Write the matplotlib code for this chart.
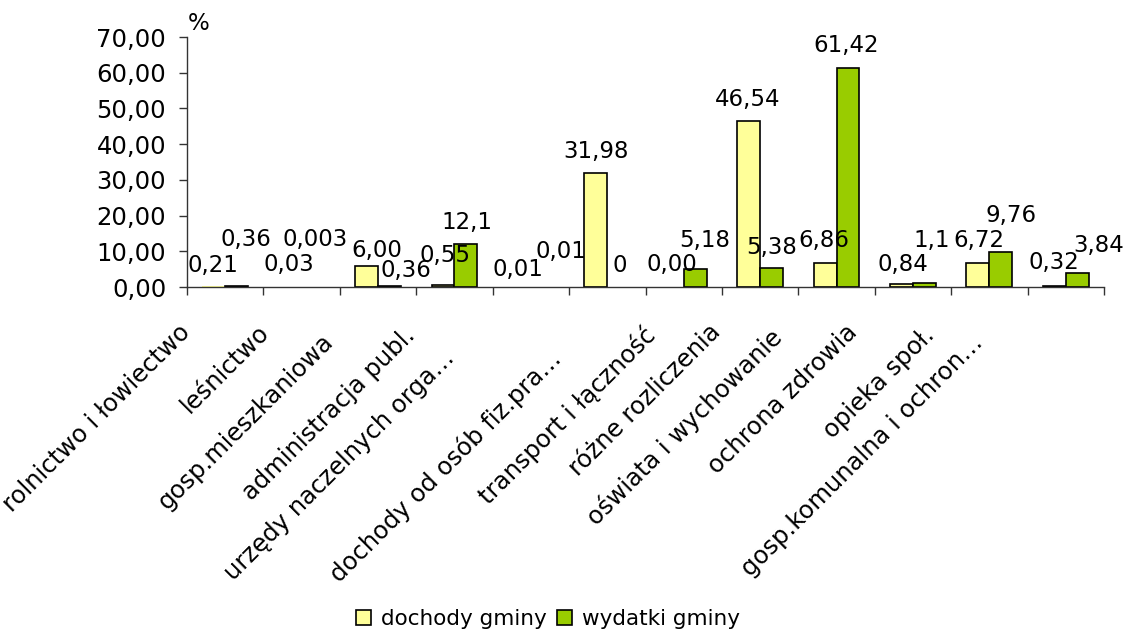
import matplotlib
matplotlib.use("Agg")
import matplotlib.pyplot as plt
from matplotlib.patches import Patch
from matplotlib.ticker import FuncFormatter

# --- data -------------------------------------------------------------
categories = [
    "rolnictwo i łowiectwo",
    "leśnictwo",
    "gosp.mieszkaniowa",
    "administracja publ.",
    "urzędy naczelnych orga…",
    "dochody od osób fiz.pra…",
    "transport i łączność",
    "różne rozliczenia",
    "oświata i wychowanie",
    "ochrona zdrowia",
    "opieka społ.",
    "gosp.komunalna i ochron…",
]
dochody_labels = ["0,21", "0,03", "6,00", "0,55", "0,01", "31,98",
                  "0,00", "46,54", "6,86", "0,84", "6,72", "0,32"]
wydatki_labels = ["0,36", "0,003", "0,36", "12,1", "0,01", "0",
                  "5,18", "5,38", "61,42", "1,1", "9,76", "3,84"]
series_names = ["dochody gminy", "wydatki gminy"]
y_ticks = [0, 10, 20, 30, 40, 50, 60, 70]

dochody = [float(s.replace(",", ".")) for s in dochody_labels]
wydatki = [float(s.replace(",", ".")) for s in wydatki_labels]

# --- label placement (pixel offsets from the top of each bar) ----------
dochody_off = [(-1, 21), (-1, 22), (10, 15), (2, 30), (-1, 17), (0, 21),
               (0, 22), (-1, 21), (-1, 22), (1, 19), (1, 23), (0, 23)]
wydatki_off = [(9, 46), (2, 47), (16, 15), (1, 21), (19, 35), (1, 22),
               (10, 28), (0, 20), (-2, 22), (7, 43), (10, 37), (21, 28)]
# category label anchors (pixels left / down from category centre)
cat_off = [(-47, 33), (-45, 33), (-57, 43), (-52, 36), (-89, 59), (-59, 59),
           (-41, 35), (-52, 33), (-67, 38), (-68, 33), (-67, 36), (-95, 44)]

YELLOW = "#FFFF99"
GREEN = "#99CC00"
FS_AXIS = 17.5
FS_VALUE = 16.5

fig = plt.figure(figsize=(11.25, 6.32), dpi=100)
ax = fig.add_axes([187 / 1125, 1 - 287 / 632, (1104 - 187) / 1125, (287 - 37) / 632])

x = list(range(len(categories)))
w = 0.30

def edge_widths(vals):
    # bars thinner than about one pixel are not outlined
    return [0 if v < 0.25 else 1.2 for v in vals]

b1 = ax.bar([i - w / 2 for i in x], dochody, width=w, color=YELLOW,
            edgecolor="black", linewidth=edge_widths(dochody), zorder=2)
b2 = ax.bar([i + w / 2 for i in x], wydatki, width=w, color=GREEN,
            edgecolor="black", linewidth=edge_widths(wydatki), zorder=2)

for bars, labels, offs in ((b1, dochody_labels, dochody_off),
                           (b2, wydatki_labels, wydatki_off)):
    for rect, lab, (dx, dy) in zip(bars, labels, offs):
        ax.annotate(lab, xy=(rect.get_x() + rect.get_width() / 2, rect.get_height()),
                    xytext=(dx, dy), textcoords="offset pixels",
                    ha="center", va="center", fontsize=FS_VALUE, zorder=5,
                    annotation_clip=False)

ax.set_xlim(-0.5, len(categories) - 0.5)
ax.set_ylim(0, 70)
ax.set_yticks(y_ticks)
ax.yaxis.set_major_formatter(FuncFormatter(lambda v, p: f"{v:.2f}".replace(".", ",")))
ax.set_xticks([i - 0.5 for i in range(len(categories) + 1)])
ax.set_xticklabels([])

for i, (name, (dx, dy)) in enumerate(zip(categories, cat_off)):
    ax.annotate(name, xy=(i, 0), xytext=(dx, -dy), textcoords="offset pixels",
                rotation=45, rotation_mode="anchor", ha="right", va="top",
                fontsize=FS_AXIS, annotation_clip=False)

for s in ("top", "right"):
    ax.spines[s].set_visible(False)
for s in ("left", "bottom"):
    ax.spines[s].set_linewidth(1)
    ax.spines[s].set_color("#333333")
ax.tick_params(axis="both", direction="out", length=6, width=1, colors="#333333",
               labelcolor="black")
ax.tick_params(axis="y", labelsize=FS_AXIS, pad=9)

fig.text(199 / 1125, 1 - 23 / 632, "%", ha="center", va="center", fontsize=16.5)

handles = [Patch(facecolor=YELLOW, edgecolor="black", linewidth=1.2),
           Patch(facecolor=GREEN, edgecolor="black", linewidth=1.2)]
fig.legend(handles, series_names, loc="center", bbox_to_anchor=(548 / 1125, 1 - 619 / 632),
           ncol=2, frameon=False, fontsize=15.5, handlelength=0.7, handleheight=0.7,
           handletextpad=0.45, columnspacing=0.5, borderpad=0)

fig.savefig("out.png", dpi=100)
